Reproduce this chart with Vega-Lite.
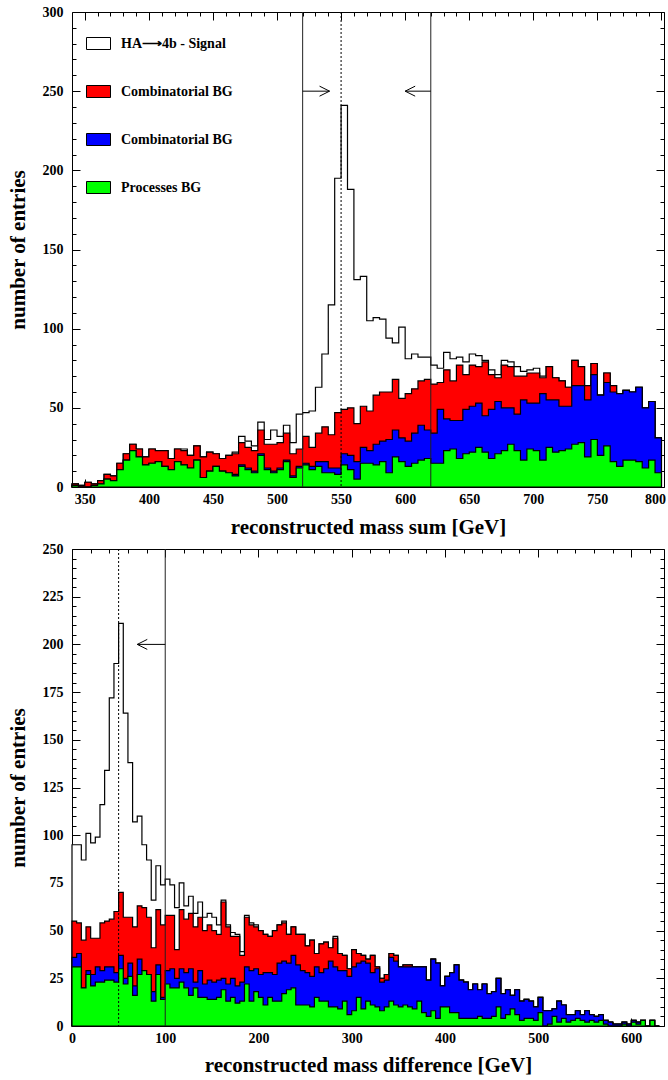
{
  "$schema": "https://vega.github.io/schema/vega-lite/v6.json",
  "background": "white",
  "padding": {"left": 7, "top": 5, "right": 0, "bottom": 0},
  "spacing": 5,
  "config": {
    "font": "Liberation Serif",
    "view": {"stroke": null},
    "axis": {
      "labelFont": "Liberation Serif", "labelFontWeight": "bold", "labelFontSize": 14, "labelColor": "black",
      "titleFont": "Liberation Serif", "titleFontWeight": "bold", "titleFontSize": 21, "titleColor": "black",
      "domainColor": "black", "domainWidth": 1, "tickColor": "black", "tickWidth": 1,
      "grid": false, "labelFlush": false, "labelOverlap": false, "zindex": 1
    }
  },
  "datasets": {
    "sum": [
      {"m":340,"g":1,"b":1,"r":2,"s":2},{"m":345,"g":0,"b":0,"r":1,"s":1},{"m":350,"g":0,"b":0,"r":3,"s":3},{"m":355,"g":1,"b":1,"r":2,"s":2},
      {"m":360,"g":2,"b":2,"r":4,"s":4},{"m":365,"g":5,"b":5,"r":8,"s":8},{"m":370,"g":4,"b":4,"r":7,"s":7},{"m":375,"g":11,"b":11,"r":15,"s":15},
      {"m":380,"g":17,"b":17,"r":21,"s":21},{"m":385,"g":23,"b":23,"r":27,"s":27},{"m":390,"g":19,"b":19,"r":24,"s":24},{"m":395,"g":14,"b":14,"r":19,"s":19},
      {"m":400,"g":15,"b":15,"r":24,"s":24},{"m":405,"g":16,"b":16,"r":23,"s":23},{"m":410,"g":13,"b":13,"r":23,"s":23},{"m":415,"g":11,"b":11,"r":18,"s":18},
      {"m":420,"g":16,"b":16,"r":24,"s":24},{"m":425,"g":14,"b":14,"r":23,"s":24},{"m":430,"g":12,"b":12,"r":20,"s":20},{"m":435,"g":17,"b":17,"r":26,"s":26},
      {"m":440,"g":6,"b":6,"r":19,"s":19},{"m":445,"g":10,"b":10,"r":22,"s":22},{"m":450,"g":13,"b":13,"r":21,"s":21},{"m":455,"g":10,"b":10,"r":18,"s":18},
      {"m":460,"g":9,"b":9,"r":20,"s":20},{"m":465,"g":7,"b":8,"r":21,"s":22},{"m":470,"g":13,"b":14,"r":28,"s":32},{"m":475,"g":11,"b":12,"r":25,"s":29},
      {"m":480,"g":9,"b":10,"r":23,"s":26},{"m":485,"g":20,"b":21,"r":36,"s":41},{"m":490,"g":11,"b":12,"r":27,"s":30},{"m":495,"g":9,"b":10,"r":27,"s":36},
      {"m":500,"g":11,"b":12,"r":28,"s":32},{"m":505,"g":16,"b":17,"r":34,"s":39},{"m":510,"g":6,"b":7,"r":21,"s":28},{"m":515,"g":12,"b":13,"r":24,"s":46},
      {"m":520,"g":14,"b":15,"r":32,"s":47},{"m":525,"g":11,"b":13,"r":25,"s":48},{"m":530,"g":13,"b":16,"r":34,"s":63},{"m":535,"g":9,"b":16,"r":38,"s":84},
      {"m":540,"g":9,"b":12,"r":33,"s":115},{"m":545,"g":8,"b":12,"r":47,"s":195},{"m":550,"g":14,"b":21,"r":49,"s":241},{"m":555,"g":11,"b":20,"r":50,"s":188},
      {"m":560,"g":5,"b":16,"r":40,"s":131},{"m":565,"g":15,"b":25,"r":51,"s":133},{"m":570,"g":15,"b":23,"r":48,"s":105},{"m":575,"g":14,"b":27,"r":58,"s":107},
      {"m":580,"g":16,"b":29,"r":60,"s":106},{"m":585,"g":9,"b":30,"r":60,"s":94},{"m":590,"g":19,"b":36,"r":68,"s":91},{"m":595,"g":16,"b":31,"r":56,"s":101},
      {"m":600,"g":13,"b":29,"r":59,"s":81},{"m":605,"g":15,"b":34,"r":62,"s":84},{"m":610,"g":17,"b":39,"r":67,"s":82},{"m":615,"g":18,"b":36,"r":68,"s":82},
      {"m":620,"g":15,"b":34,"r":65,"s":77},{"m":625,"g":15,"b":49,"r":66,"s":75},{"m":630,"g":23,"b":43,"r":74,"s":85},{"m":635,"g":24,"b":42,"r":67,"s":81},
      {"m":640,"g":18,"b":42,"r":77,"s":82},{"m":645,"g":21,"b":49,"r":71,"s":79},{"m":650,"g":22,"b":51,"r":77,"s":84},{"m":655,"g":25,"b":53,"r":76,"s":83},
      {"m":660,"g":22,"b":45,"r":79,"s":80},{"m":665,"g":18,"b":49,"r":71,"s":74},{"m":670,"g":21,"b":54,"r":69,"s":71},{"m":675,"g":23,"b":50,"r":77,"s":80},
      {"m":680,"g":27,"b":50,"r":76,"s":79},{"m":685,"g":23,"b":46,"r":70,"s":76},{"m":690,"g":17,"b":55,"r":70,"s":73},{"m":695,"g":24,"b":53,"r":72,"s":74},
      {"m":700,"g":23,"b":53,"r":72,"s":75},{"m":705,"g":17,"b":59,"r":69,"s":70},{"m":710,"g":25,"b":55,"r":76,"s":76},{"m":715,"g":22,"b":55,"r":69,"s":69},
      {"m":720,"g":23,"b":51,"r":67,"s":67},{"m":725,"g":24,"b":51,"r":63,"s":63},{"m":730,"g":27,"b":64,"r":80,"s":80},{"m":735,"g":28,"b":64,"r":76,"s":76},
      {"m":740,"g":19,"b":55,"r":64,"s":64},{"m":745,"g":30,"b":71,"r":78,"s":78},{"m":750,"g":20,"b":58,"r":58,"s":58},{"m":755,"g":26,"b":66,"r":72,"s":72},
      {"m":760,"g":16,"b":60,"r":64,"s":64},{"m":765,"g":13,"b":59,"r":59,"s":59},{"m":770,"g":17,"b":61,"r":61,"s":61},{"m":775,"g":17,"b":60,"r":60,"s":60},
      {"m":780,"g":16,"b":63,"r":63,"s":63},{"m":785,"g":12,"b":50,"r":50,"s":50},{"m":790,"g":17,"b":54,"r":54,"s":54},{"m":795,"g":9,"b":31,"r":31,"s":31},
      {"m":800,"g":9,"b":31,"r":31,"s":31}
    ],
    "diff": [
      {"m":0,"g":31,"b":36,"r":55,"s":95},{"m":5,"g":31,"b":38,"r":54,"s":95},{"m":10,"g":20,"b":20,"r":45,"s":87},{"m":15,"g":27,"b":29,"r":52,"s":101},
      {"m":20,"g":21,"b":27,"r":46,"s":96},{"m":25,"g":23,"b":31,"r":46,"s":99},{"m":30,"g":23,"b":29,"r":54,"s":116},{"m":35,"g":24,"b":31,"r":55,"s":134},
      {"m":40,"g":24,"b":31,"r":56,"s":172},{"m":45,"g":23,"b":28,"r":60,"s":190},{"m":50,"g":30,"b":37,"r":70,"s":211},{"m":55,"g":22,"b":25,"r":57,"s":164},
      {"m":60,"g":26,"b":33,"r":57,"s":138},{"m":65,"g":16,"b":21,"r":52,"s":107},{"m":70,"g":27,"b":35,"r":63,"s":110},{"m":75,"g":29,"b":29,"r":62,"s":95},
      {"m":80,"g":27,"b":27,"r":57,"s":87},{"m":85,"g":13,"b":18,"r":41,"s":66},{"m":90,"g":27,"b":32,"r":61,"s":84},{"m":95,"g":14,"b":15,"r":53,"s":74},
      {"m":100,"g":22,"b":29,"r":58,"s":77},{"m":105,"g":20,"b":30,"r":58,"s":74},{"m":110,"g":20,"b":25,"r":40,"s":62},{"m":115,"g":23,"b":30,"r":61,"s":75},
      {"m":120,"g":20,"b":28,"r":56,"s":63},{"m":125,"g":16,"b":30,"r":59,"s":68},{"m":130,"g":20,"b":23,"r":52,"s":59},{"m":135,"g":15,"b":29,"r":57,"s":65},
      {"m":140,"g":15,"b":22,"r":50,"s":57},{"m":145,"g":14,"b":24,"r":53,"s":59},{"m":150,"g":14,"b":23,"r":50,"s":57},{"m":155,"g":15,"b":24,"r":48,"s":53},
      {"m":160,"g":19,"b":25,"r":65,"s":66},{"m":165,"g":13,"b":22,"r":52,"s":53},{"m":170,"g":15,"b":25,"r":47,"s":49},{"m":175,"g":12,"b":21,"r":47,"s":48},
      {"m":180,"g":13,"b":23,"r":37,"s":39},{"m":185,"g":22,"b":31,"r":57,"s":58},{"m":190,"g":13,"b":29,"r":53,"s":54},{"m":195,"g":18,"b":30,"r":52,"s":53},
      {"m":200,"g":15,"b":27,"r":50,"s":50},{"m":205,"g":11,"b":28,"r":48,"s":48},{"m":210,"g":15,"b":28,"r":47,"s":47},{"m":215,"g":13,"b":27,"r":50,"s":50},
      {"m":220,"g":13,"b":33,"r":53,"s":53},{"m":225,"g":17,"b":34,"r":54,"s":55},{"m":230,"g":19,"b":33,"r":48,"s":48},{"m":235,"g":20,"b":37,"r":52,"s":52},
      {"m":240,"g":11,"b":32,"r":48,"s":48},{"m":245,"g":11,"b":29,"r":48,"s":48},{"m":250,"g":11,"b":28,"r":42,"s":42},{"m":255,"g":10,"b":26,"r":45,"s":45},
      {"m":260,"g":15,"b":31,"r":38,"s":38},{"m":265,"g":13,"b":28,"r":43,"s":43},{"m":270,"g":13,"b":30,"r":44,"s":44},{"m":275,"g":10,"b":34,"r":41,"s":41},
      {"m":280,"g":10,"b":31,"r":46,"s":47},{"m":285,"g":9,"b":29,"r":38,"s":38},{"m":290,"g":13,"b":29,"r":37,"s":37},{"m":295,"g":6,"b":26,"r":30,"s":30},
      {"m":300,"g":8,"b":31,"r":40,"s":40},{"m":305,"g":15,"b":33,"r":38,"s":38},{"m":310,"g":9,"b":34,"r":37,"s":37},{"m":315,"g":13,"b":33,"r":35,"s":35},
      {"m":320,"g":11,"b":28,"r":37,"s":37},{"m":325,"g":10,"b":30,"r":31,"s":31},{"m":330,"g":8,"b":23,"r":25,"s":25},{"m":335,"g":10,"b":24,"r":27,"s":27},
      {"m":340,"g":13,"b":36,"r":38,"s":38},{"m":345,"g":11,"b":34,"r":37,"s":37},{"m":350,"g":10,"b":31,"r":31,"s":31},{"m":355,"g":11,"b":31,"r":32,"s":32},
      {"m":360,"g":10,"b":31,"r":32,"s":32},{"m":365,"g":9,"b":31,"r":31,"s":31},{"m":370,"g":13,"b":31,"r":31,"s":31},{"m":375,"g":7,"b":31,"r":31,"s":31},
      {"m":380,"g":5,"b":24,"r":24,"s":24},{"m":385,"g":8,"b":35,"r":35,"s":35},{"m":390,"g":4,"b":33,"r":33,"s":33},{"m":395,"g":10,"b":21,"r":21,"s":21},
      {"m":400,"g":10,"b":26,"r":26,"s":26},{"m":405,"g":7,"b":28,"r":28,"s":28},{"m":410,"g":7,"b":32,"r":32,"s":32},{"m":415,"g":4,"b":24,"r":24,"s":24},
      {"m":420,"g":4,"b":23,"r":23,"s":23},{"m":425,"g":4,"b":19,"r":19,"s":19},{"m":430,"g":4,"b":22,"r":22,"s":22},{"m":435,"g":5,"b":19,"r":19,"s":19},
      {"m":440,"g":4,"b":22,"r":22,"s":22},{"m":445,"g":4,"b":17,"r":17,"s":17},{"m":450,"g":5,"b":18,"r":18,"s":18},{"m":455,"g":10,"b":25,"r":25,"s":25},
      {"m":460,"g":4,"b":17,"r":17,"s":17},{"m":465,"g":6,"b":19,"r":19,"s":19},{"m":470,"g":9,"b":16,"r":16,"s":16},{"m":475,"g":6,"b":19,"r":19,"s":19},
      {"m":480,"g":3,"b":13,"r":13,"s":13},{"m":485,"g":4,"b":14,"r":14,"s":14},{"m":490,"g":4,"b":13,"r":13,"s":13},{"m":495,"g":3,"b":10,"r":10,"s":10},
      {"m":500,"g":7,"b":15,"r":15,"s":15},{"m":505,"g":0,"b":8,"r":8,"s":8},{"m":510,"g":1,"b":8,"r":8,"s":8},{"m":515,"g":5,"b":9,"r":9,"s":9},
      {"m":520,"g":2,"b":13,"r":13,"s":13},{"m":525,"g":4,"b":11,"r":11,"s":11},{"m":530,"g":2,"b":6,"r":6,"s":6},{"m":535,"g":3,"b":6,"r":6,"s":6},
      {"m":540,"g":4,"b":8,"r":8,"s":8},{"m":545,"g":3,"b":6,"r":6,"s":6},{"m":550,"g":2,"b":8,"r":8,"s":8},{"m":555,"g":3,"b":6,"r":6,"s":6},
      {"m":560,"g":2,"b":5,"r":5,"s":5},{"m":565,"g":3,"b":6,"r":6,"s":6},{"m":570,"g":1,"b":3,"r":3,"s":3},{"m":575,"g":0,"b":2,"r":2,"s":2},
      {"m":580,"g":0,"b":1,"r":1,"s":1},{"m":585,"g":0,"b":1,"r":1,"s":1},{"m":590,"g":1,"b":2,"r":2,"s":2},{"m":595,"g":0,"b":1,"r":1,"s":1},
      {"m":600,"g":2,"b":3,"r":3,"s":3},{"m":605,"g":1,"b":2,"r":2,"s":2},{"m":610,"g":3,"b":3,"r":3,"s":3},{"m":615,"g":0,"b":0,"r":0,"s":0},
      {"m":620,"g":3,"b":3,"r":3,"s":3},{"m":625,"g":0,"b":0,"r":0,"s":0},{"m":630,"g":0,"b":0,"r":0,"s":0}
    ],
    "sumCuts": [{"m": 520}, {"m": 620}],
    "sumDot": [{"m": 550}],
    "sumArrows": [{"m": 520, "m2": 541, "n": 250, "dir": "right"}, {"m": 620, "m2": 600, "n": 250, "dir": "left"}],
    "diffCuts": [{"m": 100}],
    "diffDot": [{"m": 50}],
    "diffArrows": [{"m": 100, "m2": 70, "n": 200, "dir": "left"}]
  },
  "resolve": {"scale": {"color": "independent"}},
  "vconcat": [
    {
      "width": 592,
      "height": 475,
      "resolve": {"axis": {"x": "independent", "y": "independent"}},
      "layer": [
        {
          "data": {"name": "sum"},
          "mark": {"type": "area", "interpolate": "step-after", "stroke": "black", "strokeWidth": 1.2},
          "encoding": {
            "x": {"field": "m", "type": "quantitative", "scale": {"domain": [340, 802], "nice": false, "zero": false},
                  "axis": {"orient": "bottom", "values": [350,400,450,500,550,600,650,700,750,800], "tickSize": -8, "labelPadding": 13, "labelFlush": 3, "labelFlushOffset": 4, "title": "reconstructed mass sum [GeV]", "titlePadding": 10}},
            "y": {"field": "s", "type": "quantitative", "scale": {"domain": [0, 300], "nice": false},
                  "axis": {"orient": "left", "values": [0,50,100,150,200,250,300], "tickSize": -8, "labelPadding": 17, "title": "number of entries", "titlePadding": 14}},
            "color": {"datum": "HA⟶4b - Signal",
                      "scale": {"domain": ["HA⟶4b - Signal", "Combinatorial BG", "Combinatorial BG ", "Processes BG"], "range": ["#ffffff", "#ff0000", "#0000ff", "#00ff00"]},
                      "legend": {"orient": "none", "legendX": 14, "legendY": 19, "title": null, "padding": 0,
                                 "symbolType": "M-1,-0.5H1V0.5H-1Z", "symbolSize": 576, "symbolStrokeColor": "black", "symbolStrokeWidth": 1, "symbolOpacity": 1,
                                 "labelFont": "Liberation Serif", "labelFontWeight": "bold", "labelFontSize": 14, "labelColor": "black", "labelOffset": 10, "labelLimit": 300,
                                 "rowPadding": 27}}
          }
        },
        {
          "data": {"name": "sum"},
          "mark": {"type": "area", "interpolate": "step-after", "stroke": "black", "strokeWidth": 1.2},
          "encoding": {
            "x": {"field": "m", "type": "quantitative", "scale": {"domain": [340, 802], "nice": false, "zero": false},
                  "axis": {"orient": "bottom", "values": [360,370,380,390,410,420,430,440,460,470,480,490,510,520,530,540,560,570,580,590,610,620,630,640,660,670,680,690,710,720,730,740,760,770,780,790], "tickSize": -4, "labels": false, "domain": false, "title": null}},
            "y": {"field": "r", "type": "quantitative", "scale": {"domain": [0, 300], "nice": false},
                  "axis": {"orient": "left", "values": [10,20,30,40,60,70,80,90,110,120,130,140,160,170,180,190,210,220,230,240,260,270,280,290], "tickSize": -4, "labels": false, "domain": false, "title": null}},
            "color": {"datum": "Combinatorial BG"}
          }
        },
        {
          "data": {"name": "sum"},
          "mark": {"type": "area", "interpolate": "step-after", "stroke": "black", "strokeWidth": 1.2},
          "encoding": {
            "x": {"field": "m", "type": "quantitative", "scale": {"domain": [340, 802], "nice": false, "zero": false},
                  "axis": {"orient": "top", "values": [350,400,450,500,550,600,650,700,750,800], "tickSize": -8, "labels": false, "title": null}},
            "y": {"field": "b", "type": "quantitative", "scale": {"domain": [0, 300], "nice": false},
                  "axis": {"orient": "right", "values": [0,50,100,150,200,250,300], "tickSize": -8, "labels": false, "title": null}},
            "color": {"datum": "Combinatorial BG "}
          }
        },
        {
          "data": {"name": "sum"},
          "mark": {"type": "area", "interpolate": "step-after", "stroke": "black", "strokeWidth": 1.2},
          "encoding": {
            "x": {"field": "m", "type": "quantitative", "scale": {"domain": [340, 802], "nice": false, "zero": false},
                  "axis": {"orient": "top", "values": [360,370,380,390,410,420,430,440,460,470,480,490,510,520,530,540,560,570,580,590,610,620,630,640,660,670,680,690,710,720,730,740,760,770,780,790], "tickSize": -4, "labels": false, "domain": false, "title": null}},
            "y": {"field": "g", "type": "quantitative", "scale": {"domain": [0, 300], "nice": false},
                  "axis": {"orient": "right", "values": [10,20,30,40,60,70,80,90,110,120,130,140,160,170,180,190,210,220,230,240,260,270,280,290], "tickSize": -4, "labels": false, "domain": false, "title": null}},
            "color": {"datum": "Processes BG"}
          }
        },
        {
          "data": {"name": "sumCuts"},
          "mark": {"type": "rule", "color": "#222222", "strokeWidth": 1},
          "encoding": {"x": {"field": "m", "type": "quantitative", "scale": {"domain": [340, 802], "nice": false, "zero": false}, "axis": null}}
        },
        {
          "data": {"name": "sumDot"},
          "mark": {"type": "rule", "color": "black", "strokeWidth": 1, "strokeDash": [2, 2]},
          "encoding": {"x": {"field": "m", "type": "quantitative", "scale": {"domain": [340, 802], "nice": false, "zero": false}, "axis": null}}
        },
        {
          "data": {"name": "sumArrows"},
          "mark": {"type": "rule", "color": "black", "strokeWidth": 1},
          "encoding": {
            "x": {"field": "m", "type": "quantitative", "scale": {"domain": [340, 802], "nice": false, "zero": false}, "axis": null},
            "x2": {"field": "m2"},
            "y": {"field": "n", "type": "quantitative", "scale": {"domain": [0, 300], "nice": false}, "axis": null}
          }
        },
        {
          "data": {"name": "sumArrows"},
          "mark": {"type": "point", "filled": false, "color": "black", "strokeWidth": 1, "size": 400, "opacity": 1},
          "encoding": {
            "x": {"field": "m2", "type": "quantitative", "scale": {"domain": [340, 802], "nice": false, "zero": false}, "axis": null},
            "y": {"field": "n", "type": "quantitative", "scale": {"domain": [0, 300], "nice": false}, "axis": null},
            "shape": {"field": "dir", "type": "nominal", "scale": {"domain": ["right", "left"], "range": ["M0,0L-1,-0.5M0,0L-1,0.5", "M0,0L1,-0.5M0,0L1,0.5"]}, "legend": null}
          }
        }
      ]
    },
    {
      "width": 592,
      "height": 477,
      "resolve": {"axis": {"x": "independent", "y": "independent"}},
      "layer": [
        {
          "data": {"name": "diff"},
          "mark": {"type": "area", "interpolate": "step-after", "stroke": "black", "strokeWidth": 1.2, "fill": "#ffffff"},
          "encoding": {
            "x": {"field": "m", "type": "quantitative", "scale": {"domain": [0, 635], "nice": false, "zero": false},
                  "axis": {"orient": "bottom", "values": [0,100,200,300,400,500,600], "tickSize": -8, "labelPadding": 13, "title": "reconstructed mass difference [GeV]", "titlePadding": 9}},
            "y": {"field": "s", "type": "quantitative", "scale": {"domain": [0, 250], "nice": false},
                  "axis": {"orient": "left", "values": [0,25,50,75,100,125,150,175,200,225,250], "tickSize": -8, "labelPadding": 17, "title": "number of entries", "titlePadding": 14}}
          }
        },
        {
          "data": {"name": "diff"},
          "mark": {"type": "area", "interpolate": "step-after", "stroke": "black", "strokeWidth": 1.2, "fill": "#ff0000"},
          "encoding": {
            "x": {"field": "m", "type": "quantitative", "scale": {"domain": [0, 635], "nice": false, "zero": false},
                  "axis": {"orient": "bottom", "values": [20,40,60,80,120,140,160,180,220,240,260,280,320,340,360,380,420,440,460,480,520,540,560,580,620], "tickSize": -4, "labels": false, "domain": false, "title": null}},
            "y": {"field": "r", "type": "quantitative", "scale": {"domain": [0, 250], "nice": false},
                  "axis": {"orient": "left", "values": [5,10,15,20,30,35,40,45,55,60,65,70,80,85,90,95,105,110,115,120,130,135,140,145,155,160,165,170,180,185,190,195,205,210,215,220,230,235,240,245], "tickSize": -4, "labels": false, "domain": false, "title": null}}
          }
        },
        {
          "data": {"name": "diff"},
          "mark": {"type": "area", "interpolate": "step-after", "stroke": "black", "strokeWidth": 1.2, "fill": "#0000ff"},
          "encoding": {
            "x": {"field": "m", "type": "quantitative", "scale": {"domain": [0, 635], "nice": false, "zero": false},
                  "axis": {"orient": "top", "values": [0,100,200,300,400,500,600], "tickSize": -8, "labels": false, "title": null}},
            "y": {"field": "b", "type": "quantitative", "scale": {"domain": [0, 250], "nice": false},
                  "axis": {"orient": "right", "values": [0,25,50,75,100,125,150,175,200,225,250], "tickSize": -8, "labels": false, "title": null}}
          }
        },
        {
          "data": {"name": "diff"},
          "mark": {"type": "area", "interpolate": "step-after", "stroke": "black", "strokeWidth": 1.2, "fill": "#00ff00"},
          "encoding": {
            "x": {"field": "m", "type": "quantitative", "scale": {"domain": [0, 635], "nice": false, "zero": false},
                  "axis": {"orient": "top", "values": [20,40,60,80,120,140,160,180,220,240,260,280,320,340,360,380,420,440,460,480,520,540,560,580,620], "tickSize": -4, "labels": false, "domain": false, "title": null}},
            "y": {"field": "g", "type": "quantitative", "scale": {"domain": [0, 250], "nice": false},
                  "axis": {"orient": "right", "values": [5,10,15,20,30,35,40,45,55,60,65,70,80,85,90,95,105,110,115,120,130,135,140,145,155,160,165,170,180,185,190,195,205,210,215,220,230,235,240,245], "tickSize": -4, "labels": false, "domain": false, "title": null}}
          }
        },
        {
          "data": {"name": "diffCuts"},
          "mark": {"type": "rule", "color": "#222222", "strokeWidth": 1},
          "encoding": {"x": {"field": "m", "type": "quantitative", "scale": {"domain": [0, 635], "nice": false, "zero": false}, "axis": null}}
        },
        {
          "data": {"name": "diffDot"},
          "mark": {"type": "rule", "color": "black", "strokeWidth": 1, "strokeDash": [2, 2]},
          "encoding": {"x": {"field": "m", "type": "quantitative", "scale": {"domain": [0, 635], "nice": false, "zero": false}, "axis": null}}
        },
        {
          "data": {"name": "diffArrows"},
          "mark": {"type": "rule", "color": "black", "strokeWidth": 1},
          "encoding": {
            "x": {"field": "m", "type": "quantitative", "scale": {"domain": [0, 635], "nice": false, "zero": false}, "axis": null},
            "x2": {"field": "m2"},
            "y": {"field": "n", "type": "quantitative", "scale": {"domain": [0, 250], "nice": false}, "axis": null}
          }
        },
        {
          "data": {"name": "diffArrows"},
          "mark": {"type": "point", "filled": false, "color": "black", "strokeWidth": 1, "size": 400, "opacity": 1},
          "encoding": {
            "x": {"field": "m2", "type": "quantitative", "scale": {"domain": [0, 635], "nice": false, "zero": false}, "axis": null},
            "y": {"field": "n", "type": "quantitative", "scale": {"domain": [0, 250], "nice": false}, "axis": null},
            "shape": {"field": "dir", "type": "nominal", "scale": {"domain": ["right", "left"], "range": ["M0,0L-1,-0.5M0,0L-1,0.5", "M0,0L1,-0.5M0,0L1,0.5"]}, "legend": null}
          }
        }
      ]
    }
  ]
}
